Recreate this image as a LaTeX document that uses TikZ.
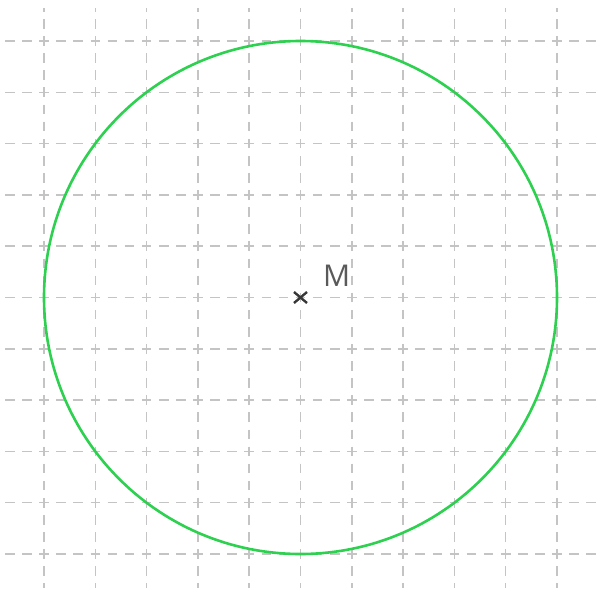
\documentclass[tikz,border=0pt]{standalone}
\usepackage{fontspec}
\setmainfont{Open Sans}
\usetikzlibrary{calc}
\definecolor{gridgray}{RGB}{196,196,196}
\definecolor{circgreen}{RGB}{46,208,80}
\definecolor{markgray}{RGB}{55,55,55}
\definecolor{labelgray}{RGB}{90,90,90}
\begin{document}
\begin{tikzpicture}[x=1pt,y=-1pt,
  gridline/.style={draw=gridgray,line width=1.5pt,dash pattern=on 9.6pt off 7.5pt},
  circline/.style={draw=circgreen,line width=2.6pt},
  markline/.style={draw=markgray,line width=2.4pt}]
\useasboundingbox (0,0) rectangle (605,591);
\foreach \i in {0,...,10}{
  \draw[gridline,dash phase=6pt] ({44+51.3*\i},8) -- ({44+51.3*\i},588);
  \draw[gridline,dash phase=0pt] (5,{41+51.3*\i}) -- (600,{41+51.3*\i});
}
\coordinate (M) at (300.5,297.5);
\draw[circline] (M) circle (256.5);
\draw[markline] ($(M)+(-6.5,-5.5)$) -- ($(M)+(6.5,5.5)$);
\draw[markline] ($(M)+(-6.5,5.5)$) -- ($(M)+(6.5,-5.5)$);
\node[text=labelgray,font=\fontsize{30}{30}\selectfont,anchor=south west,inner sep=0pt] (lab) at (323,287) {M};
\end{tikzpicture}
\end{document}
